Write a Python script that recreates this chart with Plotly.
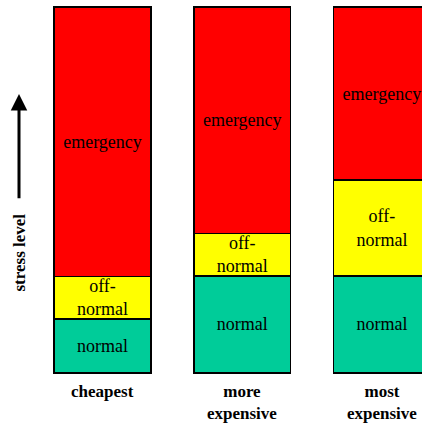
import plotly.graph_objects as go

# Cost options and stress-level bands (share of the stress scale, %)
categories = ["cheapest", "more<br>expensive", "most<br>expensive"]
normal = [14.7, 26.5, 26.5]
off_normal = [11.7, 11.6, 26.2]
emergency = [73.6, 61.9, 47.3]

band_names = ["normal", "off-<br>normal", "emergency"]
band_colors = ["#00CC99", "#FFFF00", "#FF0000"]

x_pos = list(range(len(categories)))
serif = "Liberation Serif"

fig = go.Figure()
for name, vals, color in zip(band_names, [normal, off_normal, emergency], band_colors):
    fig.add_trace(go.Bar(
        x=x_pos,
        y=vals,
        width=0.694,
        marker=dict(color=color, line=dict(color="black", width=1.5)),
        text=[name] * len(vals),
        textposition="inside",
        insidetextanchor="middle",
        textangle=0,
        constraintext="none",
        textfont=dict(family=serif, size=18, color="black"),
        hoverinfo="skip",
        showlegend=False,
    ))

# Category labels under each bar
for xi, label in zip(x_pos, categories):
    fig.add_annotation(
        x=xi, y=-1.9, xref="x", yref="y",
        text=f"<b>{label}</b>", showarrow=False,
        yanchor="top", xanchor="center",
        font=dict(family=serif, size=17, color="black"),
    )

# Upward arrow and rotated axis caption on the left
fig.add_annotation(
    x=-0.598, y=76.2, ax=-0.598, ay=47.3,
    xref="x", yref="y", axref="x", ayref="y",
    text="", showarrow=True,
    arrowhead=2, arrowsize=1.1, arrowwidth=3, arrowcolor="black",
)
fig.add_annotation(
    x=-0.594, y=32.8, xref="x", yref="y",
    text="<b>stress level</b>", showarrow=False, textangle=-90,
    font=dict(family=serif, size=17, color="black"),
)

fig.update_layout(
    barmode="stack",
    width=422, height=425,
    margin=dict(l=0, r=0, t=0, b=0),
    paper_bgcolor="white", plot_bgcolor="white",
    font=dict(family=serif),
    xaxis=dict(range=[-0.734, 2.287], visible=False, fixedrange=True),
    yaxis=dict(range=[-14.21, 101.91], visible=False, fixedrange=True),
)

fig.write_html("out.html")
